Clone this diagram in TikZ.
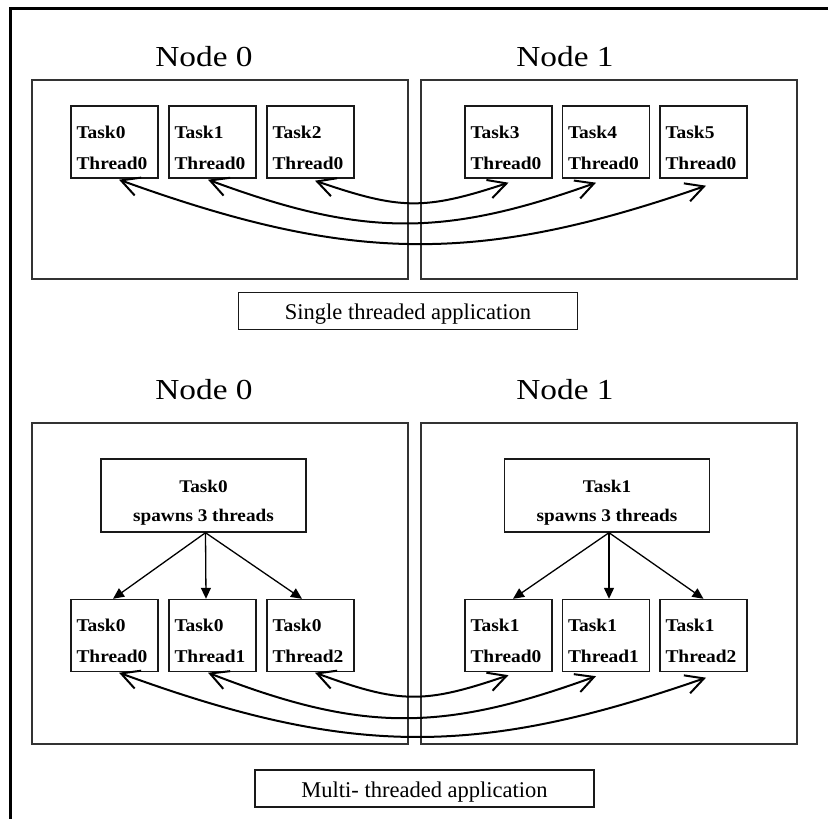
\documentclass[tikz,border=0pt]{standalone}
\usepackage{fontspec}
\setmainfont{Liberation Serif}
\newfontfamily\headfont[FakeStretch=1.15]{Liberation Serif}
\newfontfamily\boxfont[FakeStretch=1.08]{Liberation Serif Bold}
\usetikzlibrary{arrows.meta}

% two left-aligned lines at fixed baselines inside an 87x72 box
\newcommand\leftpair[2]{\vbox to 72pt{\offinterlineskip\hrule height0pt width87pt
  \kern32pt\hbox{\kern5.5pt\smash{#1}}\kern31pt\hbox{\kern5.5pt\smash{#2}}\vss}}
% two centred lines at fixed baselines inside a 205x73 box
\newcommand\centrepair[2]{\vbox to 73pt{\offinterlineskip\hrule height0pt width205pt
  \kern33pt\hbox to 205pt{\hss\smash{#1}\hss}\kern29pt\hbox to 205pt{\hss\smash{#2}\hss}\vss}}

\tikzset{
  hostbox/.style={draw=black!80, line width=1.2pt, inner sep=0pt},
  taskbox/.style={draw=black!90, line width=1.4pt, inner sep=0pt,
    font=\boxfont\fontsize{18}{20}\selectfont},
  spawnbox/.style={draw=black!90, line width=1.4pt, inner sep=0pt,
    font=\boxfont\fontsize{17.8}{20}\selectfont},
  caption/.style={draw=black!90, line width=1.4pt, inner sep=0pt,
    minimum width=339pt, minimum height=37pt, text height=20pt, text depth=3pt,
    font=\fontsize{22.5}{26}\selectfont},
  hosttitle/.style={anchor=base, inner sep=0pt, font=\headfont\fontsize{29}{32}\selectfont},
  comm/.style={line width=2pt, {Straight Barb[length=18pt,width=19pt]}-{Straight Barb[length=18pt,width=19pt]}},
  fork/.style={line width=1.3pt, -{Triangle[length=11pt,width=10pt]}}
}

\begin{document}
\begin{tikzpicture}[x=1pt, y=-1pt]
\useasboundingbox (0,0) rectangle (828,819);

% outer frame
\draw[line width=3pt] (10,819) -- (10,8.3) -- (828,8.3);

% ---------- single threaded ----------
\node[hosttitle] (h0) at (204,66) {Node 0};
\node[hosttitle] (h1) at (565,66) {Node 1};
\node[hostbox, minimum width=376pt, minimum height=199pt] (n0) at (220,179.5) {};
\node[hostbox, minimum width=376pt, minimum height=199pt] (n1) at (609,179.5) {};

\node[taskbox] (s0) at (114.5,142) {\leftpair{Task0}{Thread0}};
\node[taskbox] (s1) at (212.5,142) {\leftpair{Task1}{Thread0}};
\node[taskbox] (s2) at (310.5,142) {\leftpair{Task2}{Thread0}};
\node[taskbox] (s3) at (508.5,142) {\leftpair{Task3}{Thread0}};
\node[taskbox] (s4) at (606,142) {\leftpair{Task4}{Thread0}};
\node[taskbox] (s5) at (703.5,142) {\leftpair{Task5}{Thread0}};

\draw[comm] ([xshift=4.5pt,yshift=-1pt]s0.south) .. controls +(230,83) and +(-230,80) .. ([xshift=2.5pt,yshift=-7pt]s5.south);
\draw[comm] ([xshift=-4.5pt,yshift=-1pt]s1.south) .. controls +(154,57) and +(-154,55) .. ([xshift=-10pt,yshift=-4pt]s4.south);
\draw[comm] ([xshift=4.5pt,yshift=-2pt]s2.south) .. controls +(85,29) and +(-85,28) .. ([yshift=-4pt]s3.south);

\node[caption] (c0) at (408,311) {Single threaded application};

% ---------- multi threaded ----------
\node[hosttitle] (k0) at (204,399) {Node 0};
\node[hosttitle] (k1) at (565,399) {Node 1};
\node[hostbox, minimum width=376pt, minimum height=321pt] (p0) at (220,583.5) {};
\node[hostbox, minimum width=376pt, minimum height=321pt] (p1) at (609,583.5) {};

\node[spawnbox] (sp0) at (203.5,495.5) {\centrepair{Task0}{spawns 3 threads}};
\node[spawnbox] (sp1) at (607,495.5) {\centrepair{Task1}{spawns 3 threads}};

\node[taskbox] (m00) at (114.5,635.5) {\leftpair{Task0}{Thread0}};
\node[taskbox] (m01) at (212.5,635.5) {\leftpair{Task0}{Thread1}};
\node[taskbox] (m02) at (310.5,635.5) {\leftpair{Task0}{Thread2}};
\node[taskbox] (m10) at (508.5,635.5) {\leftpair{Task1}{Thread0}};
\node[taskbox] (m11) at (606,635.5) {\leftpair{Task1}{Thread1}};
\node[taskbox] (m12) at (703.5,635.5) {\leftpair{Task1}{Thread2}};

\draw[fork] ([xshift=2pt]sp0.south) -- ([xshift=-1.5pt]m00.north);
\draw[fork] ([xshift=2pt]sp0.south) -- ([xshift=-6.5pt]m01.north);
\draw[fork] ([xshift=2pt]sp0.south) -- ([xshift=-8.5pt]m02.north);
\draw[fork] ([xshift=2pt]sp1.south) -- ([xshift=4.5pt]m10.north);
\draw[fork] ([xshift=2pt]sp1.south) -- ([xshift=3pt]m11.north);
\draw[fork] ([xshift=2pt]sp1.south) -- (m12.north);

\draw[comm] ([xshift=4.5pt,yshift=-0.5pt]m00.south) .. controls +(230,84) and +(-230,80) .. ([xshift=2.5pt,yshift=-5.5pt]m12.south);
\draw[comm] ([xshift=-4.5pt,yshift=-0.5pt]m01.south) .. controls +(154,60) and +(-154,56) .. ([xshift=-10pt,yshift=-4pt]m11.south);
\draw[comm] ([xshift=4.5pt,yshift=-0.5pt]m02.south) .. controls +(85,31) and +(-85,29) .. ([yshift=-3pt]m10.south);

\node[caption] (c1) at (424.5,788.5) {Multi- threaded application};
\end{tikzpicture}
\end{document}
